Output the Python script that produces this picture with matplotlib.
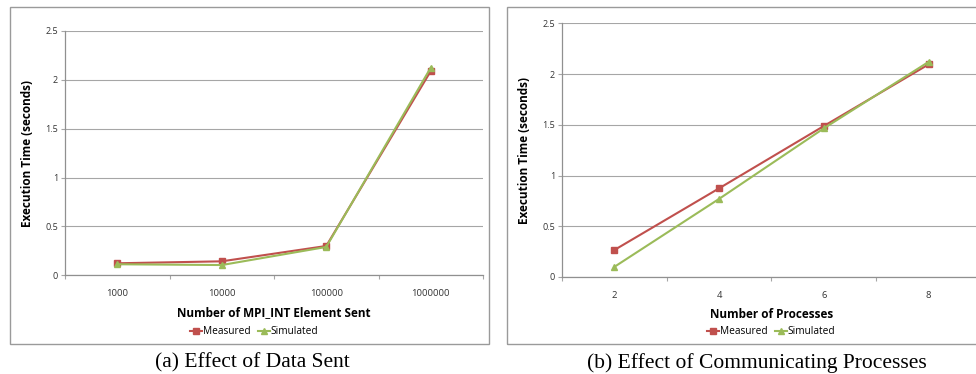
import matplotlib
matplotlib.use("Agg")
import matplotlib.pyplot as plt
from matplotlib.patches import Rectangle

# Data
cats_a = ["1000", "10000", "100000", "1000000"]
measured_a = [0.123, 0.143, 0.30, 2.09]
simulated_a = [0.113, 0.105, 0.29, 2.125]

cats_b = ["2", "4", "6", "8"]
measured_b = [0.266, 0.874, 1.488, 2.095]
simulated_b = [0.10, 0.77, 1.465, 2.12]

yticks = [0, 0.5, 1, 1.5, 2, 2.5]
ytick_labels = ["0", "0.5", "1", "1.5", "2", "2.5"]

RED = "#C0504D"
GREEN = "#9BBB59"
GRID = "#A6A6A6"
SANS = "Open Sans"

W, H = 976, 374
fig = plt.figure(figsize=(W / 100, H / 100), dpi=100)


def px_axes(left, top, right, bottom):
    return fig.add_axes([left / W, 1 - bottom / H, (right - left) / W, (bottom - top) / H])


def draw_panel(ax, cats, meas, sim, xlabel, legend_cx):
    x = list(range(len(cats)))
    ax.set_xlim(-0.5, len(cats) - 0.5)
    ax.set_ylim(0, 2.5)
    ax.set_yticks(yticks)
    ax.set_yticklabels(ytick_labels, fontsize=6.5, family=SANS, color="#333333")
    ax.set_xticks(x)
    ax.set_xticklabels(cats, fontsize=6.8, family=SANS, color="#333333")
    ax.set_xticks([i - 0.5 for i in range(len(cats) + 1)], minor=True)
    ax.tick_params(axis="x", which="major", length=0, pad=10)
    ax.tick_params(axis="x", which="minor", length=3, color=GRID, width=0.8)
    ax.tick_params(axis="y", length=3, color=GRID, width=0.8, pad=2)
    for s in ["top", "right"]:
        ax.spines[s].set_visible(False)
    for s in ["left", "bottom"]:
        ax.spines[s].set_color("#909090")
        ax.spines[s].set_linewidth(0.9)
    ax.grid(axis="y", color=GRID, linewidth=0.8)
    ax.set_axisbelow(True)
    ax.plot(x, meas, color=RED, marker="s", markersize=4, linewidth=1.5, label="Measured", clip_on=False)
    ax.plot(x, sim, color=GREEN, marker="^", markersize=4, linewidth=1.5, label="Simulated", clip_on=False)
    ax.set_xlabel(xlabel, fontsize=8.5, family=SANS, fontweight="bold", labelpad=6)
    ax.set_ylabel("Execution Time (seconds)", fontsize=8.5, family=SANS, fontweight="bold", labelpad=8)
    leg = ax.legend(loc="center", bbox_to_anchor=(legend_cx / W, 1 - 332 / H),
                    bbox_transform=fig.transFigure, ncol=2, frameon=False,
                    prop={"family": SANS, "size": 7.3}, handlelength=1.2, handletextpad=0.1,
                    columnspacing=0.7, borderaxespad=0, borderpad=0)
    return leg


# Panel boxes
fig.patches.append(Rectangle((10 / W, 1 - 344 / H), (489 - 10) / W, (344 - 7) / H,
                             transform=fig.transFigure, fill=False, edgecolor="#9A9A9A", linewidth=1))
fig.patches.append(Rectangle((507 / W, 1 - 344 / H), (990 - 507) / W, (344 - 7) / H,
                             transform=fig.transFigure, fill=False, edgecolor="#9A9A9A", linewidth=1))

ax1 = px_axes(65, 31, 483, 275.3)
draw_panel(ax1, cats_a, measured_a, simulated_a, "Number of MPI_INT Element Sent", 254)

ax2 = px_axes(562, 23.3, 981, 277)
draw_panel(ax2, cats_b, measured_b, simulated_b, "Number of Processes", 771)

fig.text(252 / W, 1 - 363 / H, "(a) Effect of Data Sent", ha="center", va="center",
         family="Liberation Serif", fontsize=15.5)
fig.text(757 / W, 1 - 363 / H, "(b) Effect of Communicating Processes", ha="center", va="center",
         family="Liberation Serif", fontsize=15.5)

fig.savefig("out.png", dpi=100)
